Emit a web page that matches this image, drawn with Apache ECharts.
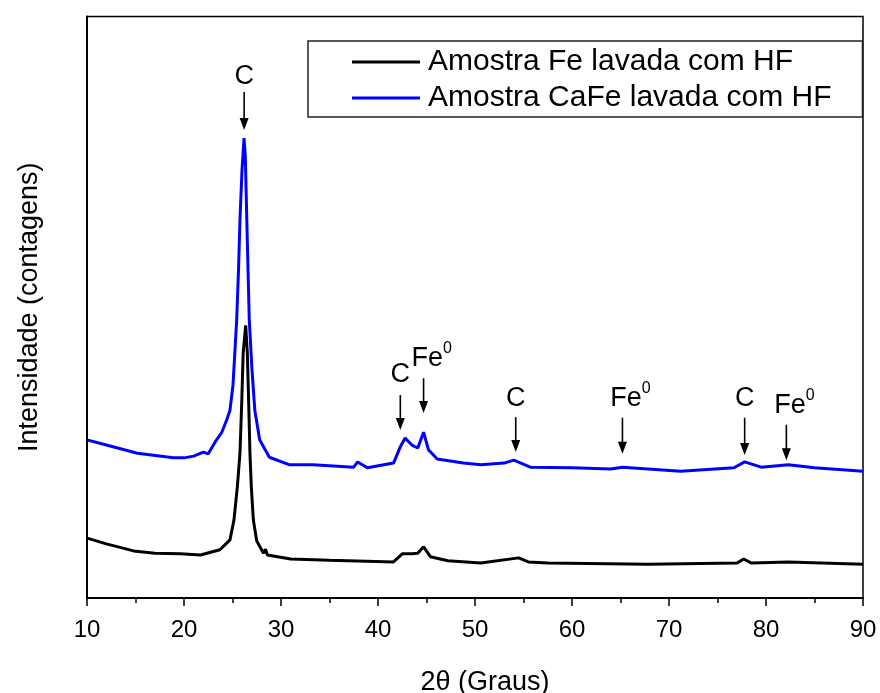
<!DOCTYPE html>
<html>
<head>
<meta charset="utf-8">
<script src="https://cdn.jsdelivr.net/npm/echarts@6/dist/echarts.min.js"></script>
<style>
html,body{margin:0;padding:0;background:#fff;}
#chart{width:880px;height:693px;}
</style>
</head>
<body>
<div id="chart"></div>
<script>
// ---- data (2θ in degrees, intensity in arbitrary units) ----
var feName = 'Amostra Fe lavada com HF';
var cafeName = 'Amostra CaFe lavada com HF';

var feX = [10, 12, 14.8, 17, 19.6, 21.7, 23.7, 24.74, 25.15, 25.5, 25.77, 25.95, 26.1, 26.36, 26.53, 26.67, 26.8, 26.94, 27.15, 27.5, 28.2, 28.4, 28.6, 31, 35, 41.6, 42.5, 43.5, 44.1, 44.7, 45.4, 47.2, 50.6, 54.5, 55.5, 57.5, 67.8, 77, 77.7, 78.5, 82.3, 90];
var feY = [10.3, 9.3, 8.1, 7.7, 7.6, 7.4, 8.3, 10.0, 13.4, 19.1, 24.9, 33.5, 42.1, 46.9, 42.1, 33.5, 24.9, 19.1, 13.4, 9.8, 7.7, 8.4, 7.4, 6.7, 6.5, 6.2, 7.6, 7.6, 7.7, 8.8, 7.1, 6.4, 6.0, 6.9, 6.2, 6.0, 5.8, 6.0, 6.7, 6.0, 6.2, 5.8];

var cafeX = [10, 12, 15.2, 18.9, 20, 21, 22, 22.5, 23.2, 23.9, 24.4, 24.74, 25.05, 25.43, 25.62, 25.77, 25.98, 26.19, 26.32, 26.46, 26.73, 27.0, 27.3, 27.8, 28.8, 30.9, 33.3, 37.5, 37.9, 38.9, 41.6, 42.3, 42.8, 43.5, 44.1, 44.7, 45.2, 46.1, 48.8, 50.6, 53, 54, 55.7, 60, 64, 65.2, 71.2, 76.7, 77.8, 79.5, 82.3, 85, 90];
var cafeY = [27.2, 26.3, 24.9, 24.1, 24.1, 24.4, 25.1, 24.8, 26.8, 28.5, 30.6, 32.3, 36.6, 47.8, 56.4, 65.0, 73.6, 79.1, 76.0, 66.0, 47.8, 39.5, 32.3, 27.2, 24.2, 22.9, 22.9, 22.5, 23.4, 22.4, 23.2, 26.0, 27.5, 26.3, 25.8, 28.5, 25.5, 23.9, 23.2, 22.9, 23.2, 23.7, 22.5, 22.4, 22.2, 22.5, 21.8, 22.4, 23.4, 22.5, 22.9, 22.4, 21.8];

// peak annotations: label, 2θ, arrow tip, arrow tail, label position (intensity units)
var annLabels = ['C', 'C', 'Fe0', 'C', 'Fe0', 'C', 'Fe0'];
var annX      = [26.2, 42.3, 44.7, 54.2, 65.2, 77.8, 82.1];
var annTip    = [80.5, 28.9, 31.8, 25.1, 24.8, 24.6, 23.7];
var annTail   = [87.0, 34.9, 37.8, 31.1, 31.0, 31.0, 29.8];
var annText   = [89.6, 38.5, 41.2, 34.3, 34.3, 34.3, 33.1];

var xTicks = [10, 20, 30, 40, 50, 60, 70, 80, 90];

function zip(a, b) { return a.map(function (v, i) { return [v, b[i]]; }); }

var FONT = '"Liberation Sans", Arial, Helvetica, sans-serif';

var chart = echarts.init(document.getElementById('chart'), null, {renderer: 'canvas'});

var annData = annX.map(function (x, i) { return [x, annTip[i], annTail[i], annText[i]]; });

var option = {
  backgroundColor: '#fff',
  animation: false,
  grid: {left: 87, right: 17, top: 16.5, bottom: 95, containLabel: false, outerBoundsMode: 'none',
    show: true, borderColor: '#000', borderWidth: 1.5, backgroundColor: 'transparent'},
  legend: {
    data: [feName, cafeName],
    orient: 'vertical',
    left: 308, top: 41,
    padding: [5, 31, 3, 44],
    itemGap: 4,
    itemWidth: 68, itemHeight: 3,
    icon: 'rect',
    borderColor: '#222', borderWidth: 1.5,
    backgroundColor: '#fff',
    textStyle: {fontFamily: FONT, fontSize: 30, color: '#000', lineHeight: 32, padding: [0, 0, 0, 3]}
  },
  xAxis: {
    type: 'value', min: 10, max: 90, interval: 10,
    name: '2\u03b8 (Graus)', nameLocation: 'middle', nameGap: 71,
    nameTextStyle: {fontFamily: FONT, fontSize: 27, color: '#000', padding: [0, 0, 0, 20]},
    axisLine: {show: true, onZero: false, lineStyle: {color: '#000', width: 2}},
    axisTick: {show: true, inside: false, length: 8, lineStyle: {color: '#000', width: 1.5}},
    minorTick: {show: true, splitNumber: 2, length: 5, lineStyle: {color: '#000', width: 1.5}},
    axisLabel: {fontFamily: FONT, fontSize: 24, color: '#000', margin: 20,
      formatter: function (v) { return xTicks.indexOf(v) >= 0 ? String(v) : ''; }},
    splitLine: {show: false}
  },
  yAxis: {
    type: 'value', min: 0, max: 100,
    name: 'Intensidade (contagens)', nameLocation: 'middle', nameGap: 44,
    nameTextStyle: {fontFamily: FONT, fontSize: 27, color: '#000'},
    axisLine: {show: true, onZero: false, lineStyle: {color: '#000', width: 2}},
    axisTick: {show: false},
    axisLabel: {show: false},
    splitLine: {show: false}
  },
  series: [
    {
      name: feName, type: 'line', data: zip(feX, feY), z: 4,
      showSymbol: false, symbol: 'none', color: '#000',
      lineStyle: {color: '#000', width: 3}
    },
    {
      name: cafeName, type: 'line', data: zip(cafeX, cafeY), z: 3,
      showSymbol: false, symbol: 'none', color: '#0000ff',
      lineStyle: {color: '#0000ff', width: 3}
    },
    {
      name: 'annotations', type: 'custom', data: annData, z: 5, silent: true,
      renderItem: function (params, api) {
        var x = api.value(0);
        var tip = api.coord([x, api.value(1)]);
        var tail = api.coord([x, api.value(2)]);
        var lab = api.coord([x, api.value(3)]);
        var head = 12, hw = 4.5;
        var label = annLabels[params.dataIndex];
        var txt = label === 'Fe0' ? '{a|Fe}{b|0}' : '{a|' + label + '}';
        return {
          type: 'group',
          children: [
            {type: 'line', shape: {x1: tip[0], y1: tail[1], x2: tip[0], y2: tip[1] - head + 1},
              style: {stroke: '#000', lineWidth: 1.6}},
            {type: 'polygon', shape: {points: [[tip[0] - hw, tip[1] - head], [tip[0] + hw, tip[1] - head], [tip[0], tip[1]]]},
              style: {fill: '#000'}},
            {type: 'text', x: lab[0] + (label === 'Fe0' ? 8 : 0), y: lab[1],
              style: {text: txt, align: 'center', verticalAlign: 'middle',
                rich: {
                  a: {fontFamily: FONT, fontSize: 27, fill: '#000', lineHeight: 28},
                  b: {fontFamily: FONT, fontSize: 16, fill: '#000', lineHeight: 16, padding: [0, 0, 20, 0]}
                }}}
          ]
        };
      }
    }
  ]
};
chart.setOption(option);
</script>
</body>
</html>
